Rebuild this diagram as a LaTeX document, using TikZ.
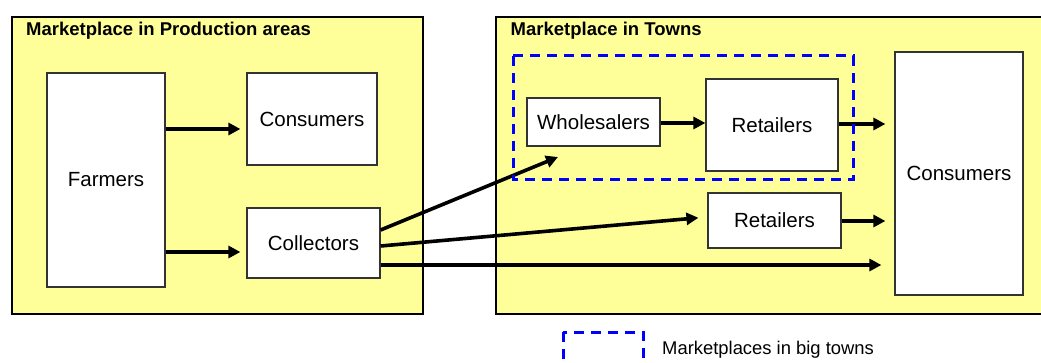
\documentclass[tikz,border=0pt]{standalone}
\usepackage{fontspec}
\setmainfont{Liberation Sans}
\usetikzlibrary{arrows.meta}
\definecolor{panelfill}{HTML}{FFFF99}
\begin{document}
\begin{tikzpicture}[x=1pt,y=-1pt,
  panel/.style={draw=black,line width=1.6pt,fill=panelfill,inner sep=0pt},
  actor/.style={draw=black!80,line width=1.2pt,fill=white,inner sep=0pt,
    font=\fontsize{20.5}{24}\selectfont,anchor=center},
  flow/.style={line width=3.6pt,-{Triangle[length=12pt,width=12pt]}},
  zone/.style={draw=blue,line width=3pt,dash pattern=on 10pt off 7pt},
  paneltitle/.style={font=\bfseries\fontsize{18.5}{22}\selectfont,anchor=base west,inner sep=0pt},
  legendtext/.style={font=\fontsize{18.4}{22}\selectfont,anchor=base west,inner sep=0pt}]

\useasboundingbox (0,0) rectangle (1041,363);
\clip (0,0) rectangle (1041,363);

% the two market areas
\node[panel,minimum width=411pt,minimum height=297pt] (prod) at (217.5,165.5) {};
\node[panel,minimum width=554pt,minimum height=297pt] (towns) at (773,165.5) {};
\node[paneltitle] (prodtitle) at (26,36) {Marketplace in Production areas};
\node[paneltitle] (townstitle) at (510.5,36) {Marketplace in Towns};

% actors
\node[actor,minimum width=118pt,minimum height=214pt] (farmers) at (106,180) {Farmers};
\node[actor,minimum width=130pt,minimum height=92pt] (cons1) at (312,119) {Consumers};
\node[actor,minimum width=133pt,minimum height=70pt] (coll) at (313.5,243) {Collectors};
\node[actor,minimum width=133pt,minimum height=48pt] (whole) at (593.5,122) {Wholesalers};
\node[actor,minimum width=132pt,minimum height=92pt] (ret1) at (772,125) {Retailers};
\node[actor,minimum width=133pt,minimum height=55pt] (ret2) at (774.5,220.5) {Retailers};
\node[actor,minimum width=128pt,minimum height=243pt] (cons2) at (959,173.5) {Consumers};

\coordinate (wtip) at (558,157);

% product flows
\draw[flow,shorten >=6pt] (farmers.east |- 0,129) -- (cons1.west |- 0,129);
\draw[flow,shorten >=6pt] (farmers.east |- 0,252) -- (coll.west |- 0,252);
\draw[flow] (whole.east |- 0,123) -- (ret1.west |- 0,123);
\draw[flow,shorten >=9pt] (ret1.east |- 0,124) -- (cons2.west |- 0,124);
\draw[flow,shorten >=9pt] (ret2.east |- 0,221) -- (cons2.west |- 0,221);
\draw[flow] (coll.east |- 0,230) -- (wtip);
\draw[flow,shorten >=9pt] (coll.east |- 0,246) -- (ret2.west |- 0,217);
\draw[flow,shorten >=13pt] (coll.east |- 0,265) -- (cons2.west |- 0,265);

% big-town marketplaces
\draw[zone] (513,56) rectangle (853,180);

% legend
\draw[zone] (563,332) rectangle (643,390);
\node[legendtext] (legend) at (662,354) {Marketplaces in big towns};
\end{tikzpicture}
\end{document}
